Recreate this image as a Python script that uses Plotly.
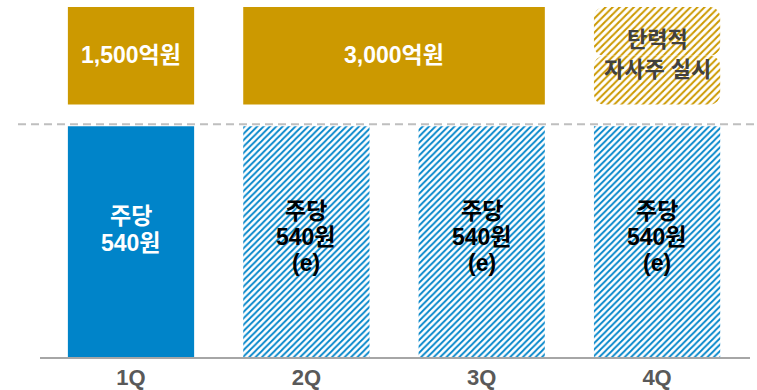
import plotly.graph_objects as go

# Quarterly shareholder-return plan
quarters = ["1Q", "2Q", "3Q", "4Q"]
dividend_per_share = [540, 540, 540, 540]          # KRW per share
dividend_estimated = [False, True, True, True]     # (e) = estimate
buyback_labels = ["1,500억원", "3,000억원", "탄력적<br>자사주 실시"]
buyback_quarters = [[0], [1, 2], [3]]              # quarters covered by each buyback box

GOLD = "#CC9900"
BLUE = "#0084C9"
FONT = "Liberation Sans, Noto Sans CJK KR, sans-serif"

BAR_W = 0.72
BOX_BASE = 591
BOX_H = 228
Y_MAX = 835.6

xs = list(range(len(quarters)))
fig = go.Figure()


def add_text_lines(x, y, text, spacing, font):
    """Place a multi-line label as one annotation per line with a fixed line pitch."""
    lines = text.split("<br>")
    n = len(lines)
    for k, line in enumerate(lines):
        fig.add_annotation(x=x, y=y, text=line, showarrow=False, yanchor="middle",
                           yshift=((n - 1) / 2 - k) * spacing, font=font)


# dividend bars: first actual (solid), remaining estimated (hatched)
for i, (v, est) in enumerate(zip(dividend_per_share, dividend_estimated)):
    if est:
        marker = dict(color=BLUE, pattern=dict(shape="/", fgcolor=BLUE, bgcolor="white",
                                               size=4.5, solidity=0.4, fillmode="replace"),
                      line=dict(width=0))
    else:
        marker = dict(color=BLUE, line=dict(width=0))
    fig.add_trace(go.Bar(x=[xs[i]], y=[v], width=BAR_W, marker=marker,
                         hoverinfo="skip", showlegend=False))
    label = f"주당<br>{v}원" + ("<br>(e)" if est else "")
    add_text_lines(xs[i], v * (0.52 if est else 0.553), label,
                   26 if est else 27,
                   dict(family=FONT, size=23, weight="bold",
                        color="black" if est else "white"))

# buyback boxes above the dividend bars
for lbl, qs in zip(buyback_labels[:2], buyback_quarters[:2]):
    cx = sum(qs) / len(qs)
    w = (qs[-1] - qs[0]) + BAR_W
    fig.add_trace(go.Bar(x=[cx], y=[BOX_H], base=[BOX_BASE], width=w,
                         marker=dict(color=GOLD, line=dict(width=0)),
                         hoverinfo="skip", showlegend=False))
    add_text_lines(cx, BOX_BASE + BOX_H * 0.51, lbl, 30,
                   dict(family=FONT, size=23, weight="bold", color="white"))

# flexible buyback: hatched box with rounded corners (two halves, each rounded at its tip)
cx4 = buyback_quarters[2][0]
mid = BOX_BASE + BOX_H / 2
gold_hatch = dict(color=GOLD, cornerradius=10,
                  pattern=dict(shape="/", fgcolor=GOLD, bgcolor="white",
                               size=5, solidity=0.4, fillmode="replace"),
                  line=dict(width=0))
fig.add_trace(go.Bar(x=[cx4], y=[BOX_H / 2], base=[mid], width=BAR_W, marker=gold_hatch,
                     hoverinfo="skip", showlegend=False))
fig.add_trace(go.Bar(x=[cx4], y=[-BOX_H / 2], base=[mid], width=BAR_W, marker=gold_hatch,
                     hoverinfo="skip", showlegend=False))
add_text_lines(cx4, mid + 3, buyback_labels[2], 30,
               dict(family=FONT, size=22, weight="bold", color="#404040"))

# dashed separator between buyback and dividend rows
fig.add_shape(type="line", xref="paper", yref="y", x0=-0.031, x1=1.01, y0=545, y1=545,
              line=dict(color="#BFBFBF", width=2, dash="8px,5px"))

fig.update_layout(
    width=757, height=390,
    margin=dict(l=40, r=7, t=0, b=31),
    paper_bgcolor="white", plot_bgcolor="white",
    barmode="overlay",
    xaxis=dict(range=[-0.519, 3.53], tickvals=xs, ticktext=quarters,
               showgrid=False, zeroline=False, showline=True, linecolor="#A6A6A6",
               linewidth=2, ticks="",
               tickfont=dict(family=FONT, size=22, weight="bold", color="#595959")),
    yaxis=dict(range=[0, Y_MAX], visible=False, showgrid=False, zeroline=False),
)

fig.write_html("out.html")
